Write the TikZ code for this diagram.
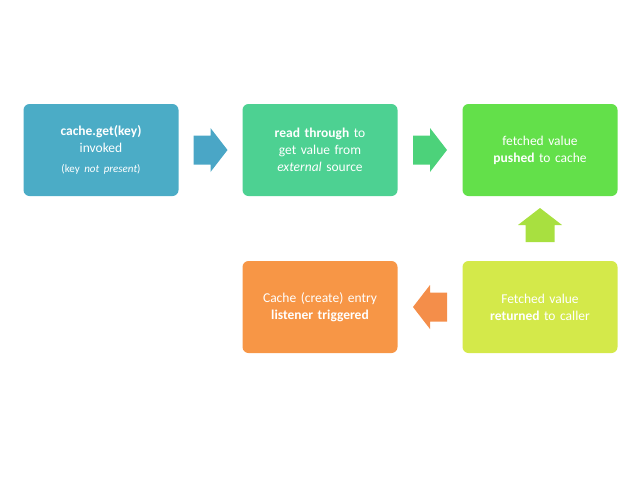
\documentclass[tikz,border=0pt]{standalone}
\usepackage{fontspec}
\setmainfont{Carlito}
\usetikzlibrary{calc}
\definecolor{cA}{HTML}{4BACC6}
\definecolor{cB}{HTML}{4DD192}
\definecolor{cC}{HTML}{63E04A}
\definecolor{cD}{HTML}{D4E94A}
\definecolor{cE}{HTML}{F79646}
\definecolor{aA}{HTML}{4AA6C6}
\definecolor{aB}{HTML}{4CD27A}
\definecolor{aC}{HTML}{A8E040}
\definecolor{aD}{HTML}{F48E4A}
\tikzset{
 box/.style={rounded corners=6pt, minimum width=155pt, minimum height=92pt, text width=128pt, align=center, text=white, inner sep=0pt, font=\fontsize{13.5}{17}\selectfont},
}
\newcommand{\blockarrow}[3]{%
 \fill[#3, shift={#1}, rotate=#2] (-17,-14.5) -- (0,-14.5) -- (0,-22) -- (17,0) -- (0,22) -- (0,14.5) -- (-17,14.5) -- cycle;}
\begin{document}
\begin{tikzpicture}[x=1pt,y=-1pt]
\useasboundingbox (0,0) rectangle (640,480);
\node[box, fill=cA] (b1) at (101,150) {\textbf{cache.get(key)}\\invoked\\[3pt]{\fontsize{11}{13}\selectfont(key \emph{not present})}};
\node[box, fill=cB] (b2) at (320,150) {\textbf{read through} to get value from \emph{external} source};
\node[box, fill=cC] (b3) at (540,150) {fetched value \textbf{pushed} to cache};
\node[box, fill=cD] (b4) at (540,307) {Fetched value\\\textbf{returned} to caller};
\node[box, fill=cE] (b5) at (320,307) {Cache (create) entry\\\textbf{listener triggered}};
\blockarrow{($(b1.east)!0.5!(b2.west)$)}{0}{aA}
\blockarrow{($(b2.east)!0.5!(b3.west)$)}{0}{aB}
\blockarrow{(540,225)}{90}{aC}
\blockarrow{($(b4.west)!0.5!(b5.east)$)}{180}{aD}
\end{tikzpicture}
\end{document}
